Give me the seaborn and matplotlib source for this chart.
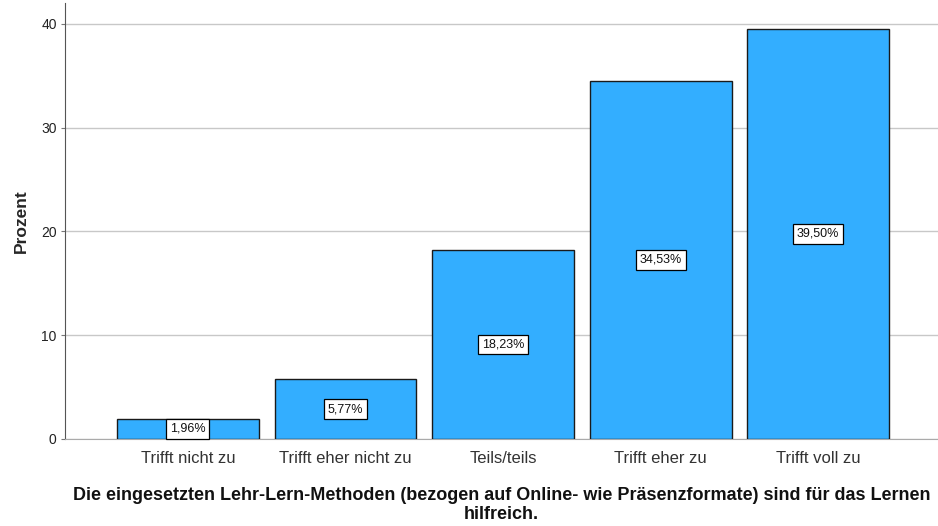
import pandas as pd
import seaborn as sns
import matplotlib.pyplot as plt

categories = ["Trifft nicht zu", "Trifft eher nicht zu", "Teils/teils",
              "Trifft eher zu", "Trifft voll zu"]
prozent = [1.96, 5.77, 18.23, 34.53, 39.50]
labels = ["1,96%", "5,77%", "18,23%", "34,53%", "39,50%"]

df = pd.DataFrame({"kategorie": categories, "prozent": prozent})

sns.set_style("white")
plt.rcParams['font.family'] = ['Liberation Sans', 'DejaVu Sans']

fig = plt.figure(figsize=(9.38, 5.26), dpi=100)
ax = fig.add_axes([0.0693, 0.1654, 0.9307, 0.8289])

sns.barplot(data=df, x="kategorie", y="prozent", color="#33aeff",
            saturation=1, width=0.9, edgecolor="#1a1a1a", linewidth=1,
            ax=ax, zorder=3)

for i, (v, lab) in enumerate(zip(prozent, labels)):
    ax.text(i, v / 2, lab, ha="center", va="center", fontsize=9, zorder=5,
            color="#111111",
            bbox=dict(boxstyle="square,pad=0.3", fc="white", ec="black", lw=0.9))

ax.set_xlim(-0.78, 4.76)
ax.set_ylim(0, 42)
ax.set_yticks([0, 10, 20, 30, 40])
ax.yaxis.grid(True, color="#c8c8c8", linewidth=1, zorder=0)
ax.set_axisbelow(True)

for s in ["top", "right"]:
    ax.spines[s].set_visible(False)
ax.spines["left"].set_color("#555555")
ax.spines["bottom"].set_color("#aaaaaa")

ax.tick_params(axis="y", labelsize=10, length=3, width=0.8, color="#777777",
               left=True, pad=3, labelcolor="#222222")
ax.tick_params(axis="x", labelsize=12, length=0, pad=9, labelcolor="#333333")

ax.set_ylabel("Prozent", fontsize=12.5, fontweight="bold", labelpad=9)
ax.set_xlabel("Die eingesetzten Lehr-Lern-Methoden (bezogen auf Online- wie Präsenzformate) sind für das Lernen\nhilfreich.",
              fontsize=13, fontweight="bold", labelpad=15, linespacing=1.15,
              color="#111111")

fig.savefig("out.png", dpi=100)
